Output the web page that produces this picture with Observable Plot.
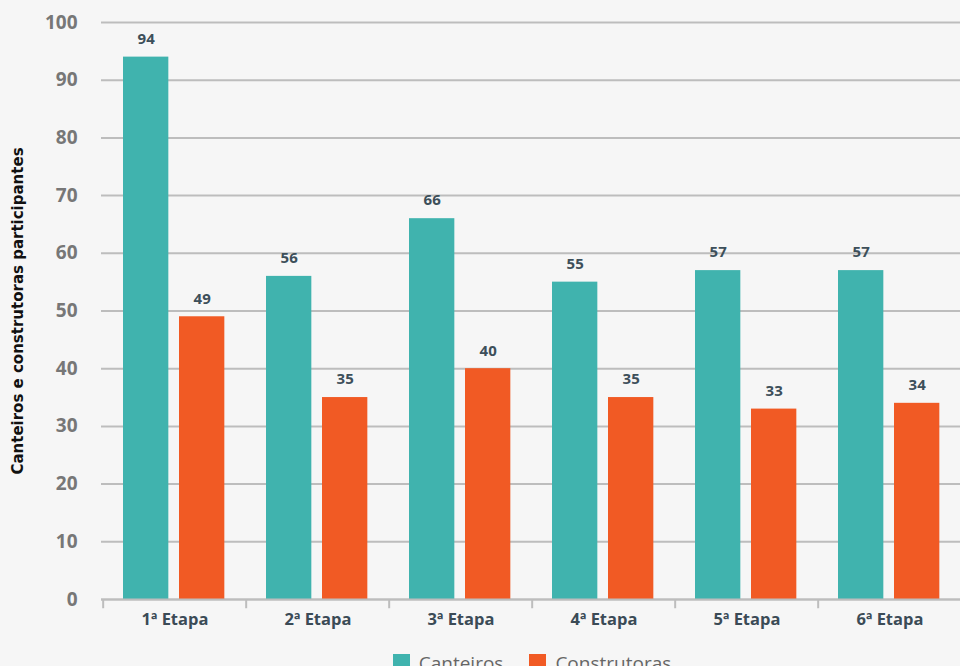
<!DOCTYPE html>
<html>
<head>
<meta charset="utf-8">
<script src="https://cdn.jsdelivr.net/npm/d3@7"></script>
<script src="https://cdn.jsdelivr.net/npm/@observablehq/plot@0.6"></script>
<style>
  html, body { margin: 0; padding: 0; background: #f6f6f6; overflow: hidden; }
  body { width: 960px; height: 666px; font-family: "Open Sans", sans-serif; }
  #chart svg { display: block; overflow: visible; }
  .legend { display: flex; justify-content: center; align-items: flex-start;
            margin-left: 101px; width: 862px; padding-top: 9px; gap: 26px; }
  .legend .item { display: flex; align-items: flex-start; gap: 9px;
                  font-size: 19px; color: #666; line-height: 19px; }
  .legend .sw { width: 17px; height: 17px; margin-top: 0; }
</style>
</head>
<body>
<div id="chart"></div>
<script>
// Participantes por etapa
const etapas = ["1ª Etapa", "2ª Etapa", "3ª Etapa", "4ª Etapa", "5ª Etapa", "6ª Etapa"];
const series = ["Canteiros", "Construtoras"];
const canteiros = [94, 56, 66, 55, 57, 57];
const construtoras = [49, 35, 40, 35, 33, 34];
const colors = ["#40b3ae", "#f15a24"];
const yTicks = [0, 10, 20, 30, 40, 50, 60, 70, 80, 90, 100];
const yLabel = "Canteiros e construtoras participantes";

const rows = etapas.flatMap((e, i) => [
  {etapa: e, serie: series[0], valor: canteiros[i]},
  {etapa: e, serie: series[1], valor: construtoras[i]}
]);
const rowsC = rows.filter(d => d.serie === series[0]);
const rowsK = rows.filter(d => d.serie === series[1]);

const bw = (963 - 101) / etapas.length; // band width in px

const plot = Plot.plot({
  width: 960,
  height: 645,
  marginTop: 22,
  marginBottom: 46,
  marginLeft: 101,
  marginRight: 0,
  style: {background: "transparent", fontFamily: "Open Sans, sans-serif", overflow: "visible"},
  x: {domain: etapas, range: [101, 963], padding: 0, label: null},
  y: {domain: [0, 100], label: null},
  color: {domain: series, range: colors},
  marks: [
    Plot.gridY(yTicks, {stroke: "#bdbdbd", strokeOpacity: 1, strokeWidth: 2}),
    Plot.axisY(yTicks, {tickSize: 0, tickPadding: 24, fontSize: 19, fontWeight: "bold", fill: "#777", label: null}),
    Plot.barY(rowsC, {x: "etapa", y: "valor", fill: "serie", insetLeft: 20, insetRight: bw - 66}),
    Plot.barY(rowsK, {x: "etapa", y: "valor", fill: "serie", insetLeft: 76, insetRight: bw - 122}),
    Plot.text(rowsC, {x: "etapa", y: "valor", text: d => String(d.valor), dx: 43 - bw / 2, dy: -18,
      fontSize: 15, fontWeight: "bold", fill: "#3d4f5a"}),
    Plot.text(rowsK, {x: "etapa", y: "valor", text: d => String(d.valor), dx: 99 - bw / 2, dy: -18,
      fontSize: 15, fontWeight: "bold", fill: "#3d4f5a"}),
    Plot.ruleY([0], {stroke: "#bdbdbd", strokeWidth: 2}),
    Plot.ruleX(etapas, {x: d => d, y1: 0, y2: -1.6, dx: -bw / 2, stroke: "#bdbdbd", strokeWidth: 2}),
    Plot.axisX({tickSize: 0, tickPadding: 14, fontSize: 16.5, fontWeight: "bold", fill: "#3b4b56", label: null}),
    Plot.text([yLabel], {frameAnchor: "left", textAnchor: "middle", rotate: -90, dx: -83,
      fontFamily: "DejaVu Sans, sans-serif", fontSize: 15, fontWeight: "bold", fill: "#111",
      letterSpacing: "0.35px"})
  ]
});

const chart = document.getElementById("chart");
chart.appendChild(plot);

// legend below the chart
const legend = document.createElement("div");
legend.className = "legend";
series.forEach((s, i) => {
  const item = document.createElement("div");
  item.className = "item";
  const sw = document.createElement("div");
  sw.className = "sw";
  sw.style.background = colors[i];
  const label = document.createElement("span");
  label.textContent = s;
  item.appendChild(sw);
  item.appendChild(label);
  legend.appendChild(item);
});
chart.appendChild(legend);
</script>
</body>
</html>
